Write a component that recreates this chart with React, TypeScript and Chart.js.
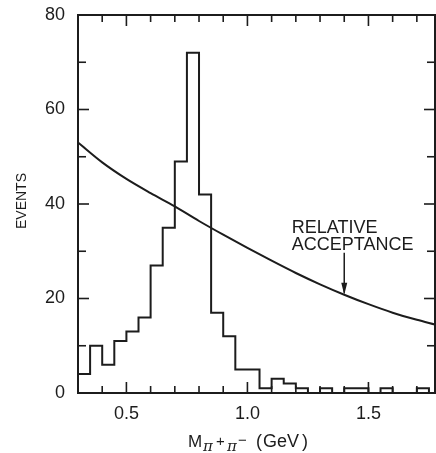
import React, { useEffect, useRef } from 'react';
import { Chart, registerables } from 'chart.js';

Chart.register(...registerables);

// ---- data ----
const binStarts = [
  0.30, 0.35, 0.40, 0.45, 0.50, 0.55, 0.60, 0.65, 0.70, 0.75,
  0.80, 0.85, 0.90, 0.95, 1.00, 1.05, 1.10, 1.15, 1.20, 1.25,
  1.30, 1.35, 1.40, 1.45, 1.50, 1.55, 1.60, 1.65, 1.70, 1.75,
];
const eventCounts = [
  4, 10, 6, 11, 13, 16, 27, 35, 49, 72,
  42, 17, 12, 5, 5, 1, 3, 2, 1, 0,
  1, 0, 1, 1, 0, 1, 0, 0, 1, 0,
];
const accMass = [0.3, 0.4, 0.5, 0.6, 0.7, 0.8, 0.9, 1.0, 1.1, 1.2, 1.3, 1.4, 1.5, 1.6, 1.7, 1.775];
const accValues = [53, 48.8, 45.3, 42.3, 39.5, 36.4, 33.5, 30.7, 28.0, 25.4, 23.0, 20.8, 18.8, 17.0, 15.5, 14.5];
const xTickLabels = [0.5, 1.0, 1.5];
const xMinorTicks = [0.4, 0.5, 0.6, 0.7, 0.8, 0.9, 1.0, 1.1, 1.2, 1.3, 1.4, 1.5, 1.6, 1.7];
const yTickLabels = [0, 20, 40, 60, 80];
const yMinorTicks = [10, 20, 30, 40, 50, 60, 70];
const xRange = [0.3, 1.775];
const yRange = [0, 80];
const annotationLines = ['RELATIVE', 'ACCEPTANCE'];
const annotationTextAt = { x: 1.183, y: 35 };
const annotationArrow = { x: 1.40, yFrom: 29.7, yTo: 20.8 };
const yTitle = 'EVENTS';

const INK = '#1c1c1c';
const FONT = '"Liberation Sans", Arial, sans-serif';

const decorPlugin = {
  id: 'decor',
  afterDatasetsDraw(chart: any) {
    const { ctx, chartArea: a, scales } = chart;
    const x = scales.x;
    const y = scales.y;
    ctx.save();
    ctx.strokeStyle = INK;
    ctx.fillStyle = INK;
    ctx.lineWidth = 2;
    ctx.lineCap = 'butt';
    ctx.strokeRect(a.left, a.top, a.right - a.left, a.bottom - a.top);
    const seg = (x1: number, y1: number, x2: number, y2: number) => {
      ctx.beginPath();
      ctx.moveTo(x1, y1);
      ctx.lineTo(x2, y2);
      ctx.stroke();
    };
    ctx.lineWidth = 1.6;
    for (const v of yMinorTicks) {
      const py = y.getPixelForValue(v);
      const len = yTickLabels.includes(v) ? 11 : 8;
      seg(a.left, py, a.left + len, py);
      seg(a.right, py, a.right - len, py);
    }
    for (const v of xMinorTicks) {
      const px = x.getPixelForValue(v);
      const major = xTickLabels.some((t) => Math.abs(t - v) < 1e-6);
      const len = major ? 11 : 7;
      seg(px, a.bottom, px, a.bottom - len);
      seg(px, a.top, px, a.top + len);
    }

    // annotation
    ctx.font = `18px ${FONT}`;
    ctx.textAlign = 'left';
    ctx.textBaseline = 'middle';
    const tx = x.getPixelForValue(annotationTextAt.x);
    const ty = y.getPixelForValue(annotationTextAt.y);
    annotationLines.forEach((line, i) => ctx.fillText(line, tx, ty + i * 17));
    const ax = x.getPixelForValue(annotationArrow.x);
    const ay1 = y.getPixelForValue(annotationArrow.yFrom);
    const ay2 = y.getPixelForValue(annotationArrow.yTo);
    ctx.lineWidth = 1.5;
    seg(ax, ay1, ax, ay2 - 2);
    ctx.beginPath();
    ctx.moveTo(ax, ay2);
    ctx.lineTo(ax - 3, ay2 - 12);
    ctx.lineTo(ax + 3, ay2 - 12);
    ctx.closePath();
    ctx.fill();

    // y title
    ctx.save();
    ctx.translate(22, 201);
    ctx.rotate(-Math.PI / 2);
    ctx.font = `14px ${FONT}`;
    ctx.textAlign = 'center';
    ctx.textBaseline = 'middle';
    ctx.fillText(yTitle, 0, 0);
    ctx.restore();

    // x title: M_{π+π−} (GeV)
    ctx.textAlign = 'left';
    ctx.textBaseline = 'alphabetic';
    const base = a.bottom + 54;
    ctx.font = `17px ${FONT}`;
    ctx.fillText('M', 188, base);
    ctx.font = `italic 15px "DejaVu Serif", serif`;
    ctx.fillText('π', 203, base + 4);
    ctx.fillText('π', 227, base + 4);
    ctx.font = `15px ${FONT}`;
    ctx.fillText('+', 216, base - 1);
    ctx.fillText('−', 238, base - 2);
    ctx.font = `18px ${FONT}`;
    ctx.fillText('(', 256, base);
    ctx.fillText('GeV', 263, base);
    ctx.fillText(')', 302, base);
    ctx.restore();
  },
};

export default function App() {
  const ref = useRef<HTMLCanvasElement>(null);
  useEffect(() => {
    const histData = binStarts.map((b, i) => ({ x: b, y: eventCounts[i] }));
    histData.push({ x: xRange[1], y: 0 });
    const accData = accMass.map((m, i) => ({ x: m, y: accValues[i] }));
    const chart = new Chart(ref.current!, {
      type: 'line',
      data: {
        datasets: [
          {
            data: histData,
            stepped: true,
            borderColor: INK,
            borderWidth: 2,
            pointRadius: 0,
            fill: false,
          },
          {
            data: accData,
            borderColor: INK,
            borderWidth: 2,
            pointRadius: 0,
            tension: 0.4,
            cubicInterpolationMode: 'monotone',
            fill: false,
          },
        ],
      },
      options: {
        animation: false,
        responsive: false,
        devicePixelRatio: 1,
        layout: { padding: { top: 15, right: 1, left: 0, bottom: 0 } },
        plugins: { legend: { display: false }, tooltip: { enabled: false } },
        scales: {
          x: {
            type: 'linear',
            min: xRange[0],
            max: xRange[1],
            afterBuildTicks: (s: any) => {
              s.ticks = xTickLabels.map((v) => ({ value: v }));
            },
            afterFit: (s: any) => {
              s.height = 60;
              s.paddingLeft = 0;
              s.paddingRight = 0;
            },
            ticks: {
              callback: (v: any) => Number(v).toFixed(1),
              font: { family: FONT, size: 18 },
              color: INK,
              padding: 10,
              maxRotation: 0,
              autoSkip: false,
            },
            grid: { display: false, drawTicks: false },
            border: { display: false },
          },
          y: {
            type: 'linear',
            min: yRange[0],
            max: yRange[1],
            afterBuildTicks: (s: any) => {
              s.ticks = yTickLabels.map((v) => ({ value: v }));
            },
            afterFit: (s: any) => {
              s.width = 78;
              s.paddingTop = 0;
              s.paddingBottom = 0;
            },
            ticks: {
              callback: (v: any) => String(v),
              font: { family: FONT, size: 18 },
              color: INK,
              padding: 13,
              autoSkip: false,
            },
            grid: { display: false, drawTicks: false },
            border: { display: false },
          },
        },
      },
      plugins: [decorPlugin],
    } as any);
    return () => chart.destroy();
  }, []);
  return (
    <div style={{ position: 'fixed', left: 0, top: 0, width: 436, height: 453, background: '#fff' }}>
      <canvas ref={ref} width={436} height={453} style={{ display: 'block' }} />
    </div>
  );
}
